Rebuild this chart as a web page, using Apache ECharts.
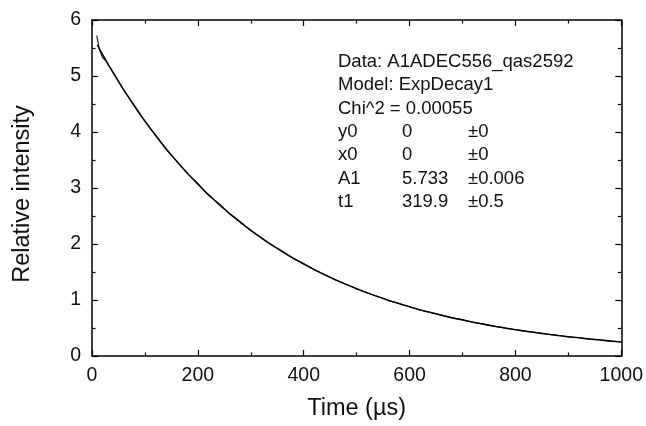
<!DOCTYPE html>
<html>
<head>
<meta charset="utf-8">
<script src="https://cdn.jsdelivr.net/npm/echarts@6/dist/echarts.min.js"></script>
<style>
html, body { margin: 0; padding: 0; background: #fff; }
#chart { width: 646px; height: 426px; }
</style>
</head>
<body>
<div id="chart"></div>
<script>
const dataTime = [9, 14, 20, 26, 40, 60, 80, 100, 120, 140, 160, 180, 200, 220, 240, 260, 280, 300, 320, 340, 360, 380, 400, 420, 440, 460, 480, 500, 520, 540, 560, 580, 600, 620, 640, 660, 680, 700, 720, 740, 760, 780, 800, 820, 840, 860, 880, 900, 920, 940, 960, 980, 1000];
const dataValue = [5.72, 5.47, 5.33, 5.27, 5.06, 4.75, 4.47, 4.19, 3.95, 3.69, 3.48, 3.26, 3.08, 2.87, 2.72, 2.54, 2.40, 2.24, 2.11, 1.98, 1.87, 1.74, 1.65, 1.54, 1.45, 1.36, 1.28, 1.20, 1.13, 1.06, 0.99, 0.94, 0.88, 0.82, 0.78, 0.73, 0.68, 0.65, 0.60, 0.57, 0.53, 0.50, 0.47, 0.44, 0.42, 0.39, 0.37, 0.34, 0.33, 0.30, 0.29, 0.26, 0.25];

// fitted ExpDecay1 curve
const fitTime = [10, 20, 40, 60, 80, 100, 120, 140, 160, 180, 200, 220, 240, 260, 280, 300, 320, 340, 360, 380, 400, 420, 440, 460, 480, 500, 520, 540, 560, 580, 600, 620, 640, 660, 680, 700, 720, 740, 760, 780, 800, 820, 840, 860, 880, 900, 920, 940, 960, 980, 1000];
const fitValue = [5.557, 5.386, 5.059, 4.753, 4.464, 4.194, 3.940, 3.701, 3.477, 3.266, 3.068, 2.882, 2.707, 2.543, 2.389, 2.244, 2.108, 1.980, 1.860, 1.748, 1.642, 1.542, 1.449, 1.361, 1.278, 1.201, 1.128, 1.060, 0.996, 0.935, 0.879, 0.825, 0.775, 0.728, 0.684, 0.643, 0.604, 0.567, 0.533, 0.500, 0.470, 0.442, 0.415, 0.390, 0.366, 0.344, 0.323, 0.304, 0.285, 0.268, 0.252];

const infoLines = [
    ['Data: A1ADEC556_qas2592', '', ''],
    ['Model: ExpDecay1', '', ''],
    ['Chi^2 = 0.00055', '', ''],
    ['y0', '0', '\u00b10'],
    ['x0', '0', '\u00b10'],
    ['A1', '5.733', '\u00b10.006'],
    ['t1', '319.9', '\u00b10.5']
];

const chart = echarts.init(document.getElementById('chart'));

const axisLine = {show: true, onZero: false, lineStyle: {color: '#000', width: 1.5}};
const tick = {show: true, inside: true, length: 6, lineStyle: {color: '#000', width: 1.2}};
const minor = {show: true, splitNumber: 2, length: 3.5, lineStyle: {color: '#000', width: 1.2}};
const font = 'Liberation Sans, Arial, sans-serif';

const graphics = [];
infoLines.forEach(function (row, i) {
    const y = 63 + i * 23.3;
    const cols = [338, 402, 468];
    row.forEach(function (t, j) {
        if (!t) return;
        graphics.push({
            type: 'text', left: cols[j], top: y - 10.5,
            style: {text: t, fontSize: 18.5, fontFamily: font, fill: '#111'}
        });
    });
});

const option = {
    animation: false,
    backgroundColor: '#fff',
    grid: {left: 92, right: 23, top: 20, bottom: 66},
    xAxis: [
        {
            type: 'value', min: 0, max: 1000, interval: 200,
            name: 'Time (\u00b5s)', nameLocation: 'middle', nameGap: 41,
            nameTextStyle: {fontSize: 23.5, fontFamily: font, color: '#111'},
            axisLine: axisLine, axisTick: tick, minorTick: minor,
            axisLabel: {fontSize: 19.5, fontFamily: font, color: '#111', margin: 10,
                formatter: function (v) { return String(v); }},
            splitLine: {show: false}
        },
        {
            type: 'value', min: 0, max: 1000, interval: 200, position: 'top',
            axisLine: axisLine, axisTick: tick, minorTick: minor,
            axisLabel: {show: false}, splitLine: {show: false}
        }
    ],
    yAxis: [
        {
            type: 'value', min: 0, max: 6, interval: 1,
            name: 'Relative intensity', nameLocation: 'middle', nameGap: 57,
            nameTextStyle: {fontSize: 23.5, fontFamily: font, color: '#111', padding: [0, 12, 0, 0]},
            axisLine: axisLine, axisTick: tick, minorTick: minor,
            axisLabel: {fontSize: 19.5, fontFamily: font, color: '#111', margin: 11},
            splitLine: {show: false}
        },
        {
            type: 'value', min: 0, max: 6, interval: 1, position: 'right',
            axisLine: axisLine, axisTick: tick, minorTick: minor,
            axisLabel: {show: false}, splitLine: {show: false}
        }
    ],
    series: [
        {
            name: 'data', type: 'line', showSymbol: false, silent: true,
            data: dataTime.map(function (t, i) { return [t, dataValue[i]]; }),
            lineStyle: {color: '#222', width: 1.2}
        },
        {
            name: 'fit', type: 'line', showSymbol: false, silent: true, smooth: true,
            data: fitTime.map(function (t, i) { return [t, fitValue[i]]; }),
            lineStyle: {color: '#000', width: 1.4}
        }
    ],
    graphic: graphics
};

chart.setOption(option);
window.addEventListener('resize', function () {
    chart.resize();
});
</script>
</body>
</html>
